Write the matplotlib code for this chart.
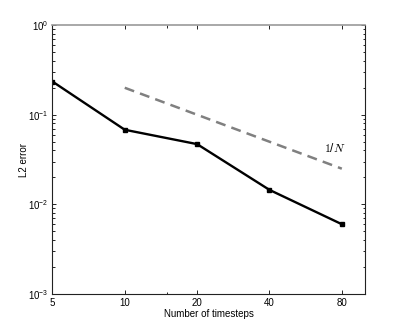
import matplotlib
matplotlib.use("Agg")
import matplotlib.pyplot as plt
from matplotlib.ticker import FixedLocator, LogLocator, NullFormatter

plt.rcParams["font.family"] = ["Liberation Sans", "DejaVu Sans"]
plt.rcParams["font.size"] = 7
plt.rcParams["mathtext.fontset"] = "custom"
plt.rcParams["mathtext.rm"] = "Liberation Sans"
plt.rcParams["mathtext.it"] = "Liberation Sans:italic"
plt.rcParams["mathtext.default"] = "regular"

# data
steps = [5, 10, 20, 40, 80]
l2_err = [0.235, 0.068, 0.047, 0.0145, 0.006]
ref_steps = [10, 80]
ref_err = [0.2, 0.025]
xticks = [5, 10, 20, 40, 80]


def main():
    fig = plt.figure(figsize=(4.03, 3.31), dpi=100)
    ax = fig.add_axes([0.130, 0.112, 0.776, 0.812])

    ax.plot(ref_steps, ref_err, "--", color="#808080", lw=1.8, dashes=(4, 2.5))
    ax.plot(steps, l2_err, "-", color="black", lw=1.7, marker="s", ms=3.5)

    ax.set_xscale("log")
    ax.set_yscale("log")
    ax.set_xlim(5, 100)
    ax.set_ylim(1e-3, 1)

    ax.xaxis.set_major_locator(FixedLocator(xticks))
    ax.xaxis.set_minor_locator(FixedLocator([15]))
    ax.xaxis.set_minor_formatter(NullFormatter())
    ax.set_xticklabels([str(v) for v in xticks])
    ax.yaxis.set_major_locator(LogLocator(base=10, numticks=10))
    ax.yaxis.set_minor_locator(LogLocator(base=10, subs=range(2, 10), numticks=10))

    ax.tick_params(which="both", direction="in", top=True, right=True, width=0.6)
    ax.tick_params(which="major", length=3, pad=3)
    ax.tick_params(which="minor", length=1.8)

    for side in ["left", "bottom", "right"]:
        ax.spines[side].set_linewidth(0.8)
        ax.spines[side].set_color("#222222")
    ax.spines["top"].set_linewidth(1.2)
    ax.spines["top"].set_color("#999999")

    ax.text(75, 0.042, r"$\mathrm{1}/\mathit{N}$", fontsize=8.5, math_fontfamily="cm",
            ha="center", va="center")

    ax.set_xlabel("Number of timesteps", labelpad=1)
    ax.set_ylabel("L2 error", labelpad=-1)

    fig.savefig("out.png", dpi=100)


if __name__ == "__main__":
    main()
